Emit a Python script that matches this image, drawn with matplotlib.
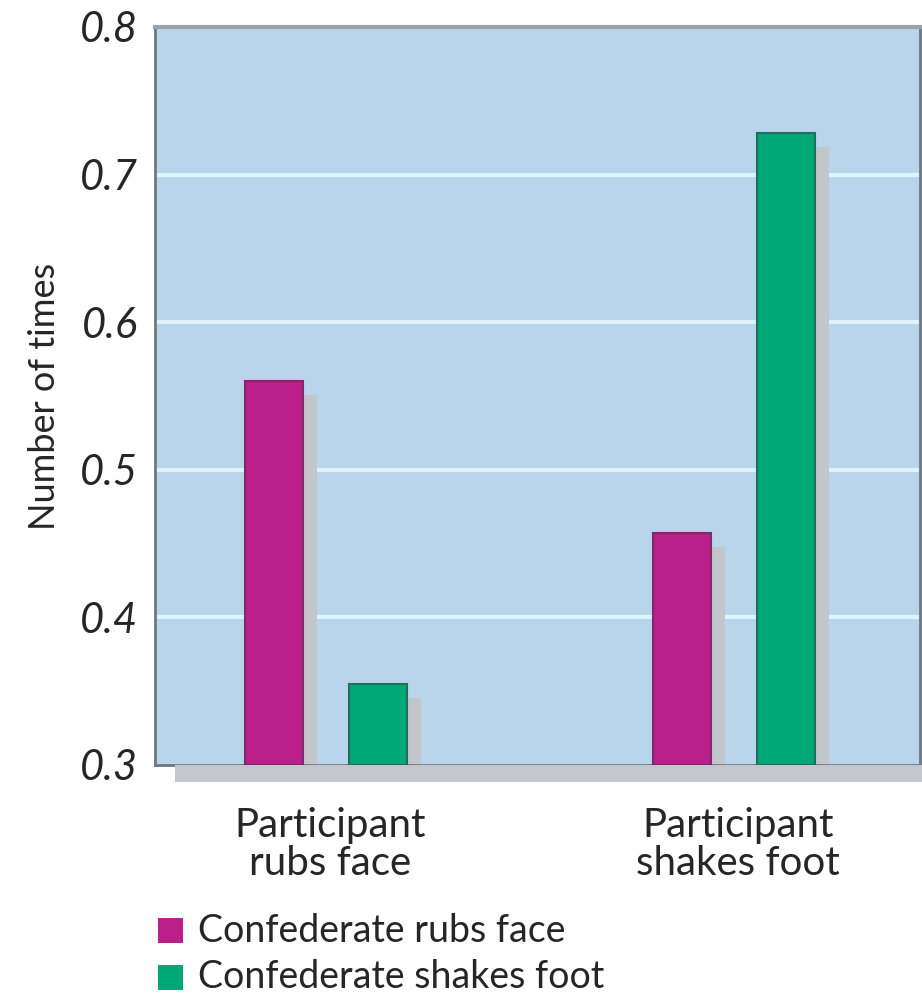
import matplotlib
matplotlib.use("Agg")
import matplotlib.pyplot as plt
import matplotlib.transforms as mtransforms
from matplotlib.patches import Rectangle
import numpy as np

# Data
groups = ["Participant\nrubs face", "Participant\nshakes foot"]
series_names = ["Confederate rubs face", "Confederate shakes foot"]
rubs_face = [0.56, 0.457]
shakes_foot = [0.355, 0.728]
y_ticks = [0.3, 0.4, 0.5, 0.6, 0.7, 0.8]
y_tick_labels = ["0.3", "0.4", "0.5", "0.6", "0.7", "0.8"]

colors = ["#bb1f89", "#00a877"]
edge_colors = ["#7b2a6c", "#1f6f5b"]
bg = "#b8d5eb"
grid_c = "#dff3fb"
shadow_c = "#c3c6ca"
text_c = "#262626"

plt.rcParams["font.family"] = ["Lato", "DejaVu Sans"]

fig = plt.figure(figsize=(9.22, 10), dpi=100)
ax = fig.add_axes([155 / 922, 0.235, 765 / 922, 0.738])
ax.set_facecolor(bg)

x = np.arange(len(groups))
width = 0.142
offset = 0.127

# Drop shadow under the plot area
fig.patches.append(Rectangle((175 / 922, 0.218), 747 / 922, 0.017,
                             transform=fig.transFigure, facecolor=shadow_c,
                             edgecolor="none", zorder=0))

shadow_tr = ax.transData + mtransforms.ScaledTranslation(0.14, -0.14, fig.dpi_scale_trans)
for vals, sgn in ((rubs_face, -1), (shakes_foot, 1)):
    ax.bar(x + sgn * offset, np.array(vals) - 0.3, width, bottom=0.3,
           color=shadow_c, edgecolor="none", transform=shadow_tr, zorder=2)

for vals, sgn, c, ec, name in ((rubs_face, -1, colors[0], edge_colors[0], series_names[0]),
                               (shakes_foot, 1, colors[1], edge_colors[1], series_names[1])):
    ax.bar(x + sgn * offset, np.array(vals) - 0.3, width, bottom=0.3,
           color=c, edgecolor=ec, linewidth=1.5, zorder=3, label=name)

ax.set_ylim(0.3, 0.8)
ax.set_xlim(-0.419, 1.456)
ax.set_yticks(y_ticks)
ax.set_yticklabels(y_tick_labels, fontsize=30, style="italic", color=text_c)
ax.set_xticks([0.01, 1.01])
ax.set_xticklabels(groups, fontsize=29, color=text_c, linespacing=1.05)
ax.tick_params(axis="both", length=0)
ax.tick_params(axis="y", pad=12)
ax.tick_params(axis="x", pad=30)

for yv in y_ticks[1:-1]:
    ax.axhline(yv, color=grid_c, linewidth=3, zorder=1)

for side in ("left", "bottom", "right"):
    ax.spines[side].set_color("#6f7780")
    ax.spines[side].set_linewidth(2)
ax.spines["top"].set_color("#9aa3ab")
ax.spines["top"].set_linewidth(3)

ax.set_ylabel("Number of times", fontsize=26, color=text_c, labelpad=14)

# Legend
for i, (name, c) in enumerate(zip(series_names, colors)):
    yb = 1 - (943 + i * 47) / 1000
    fig.patches.append(Rectangle((158 / 922, yb), 25 / 922, 25 / 1000,
                                 transform=fig.transFigure, facecolor=c,
                                 edgecolor="none"))
    fig.text(198 / 922, yb + 12.5 / 1000, name, fontsize=27, va="center",
             ha="left", color=text_c)

fig.savefig("out.png", dpi=100, facecolor="white")
